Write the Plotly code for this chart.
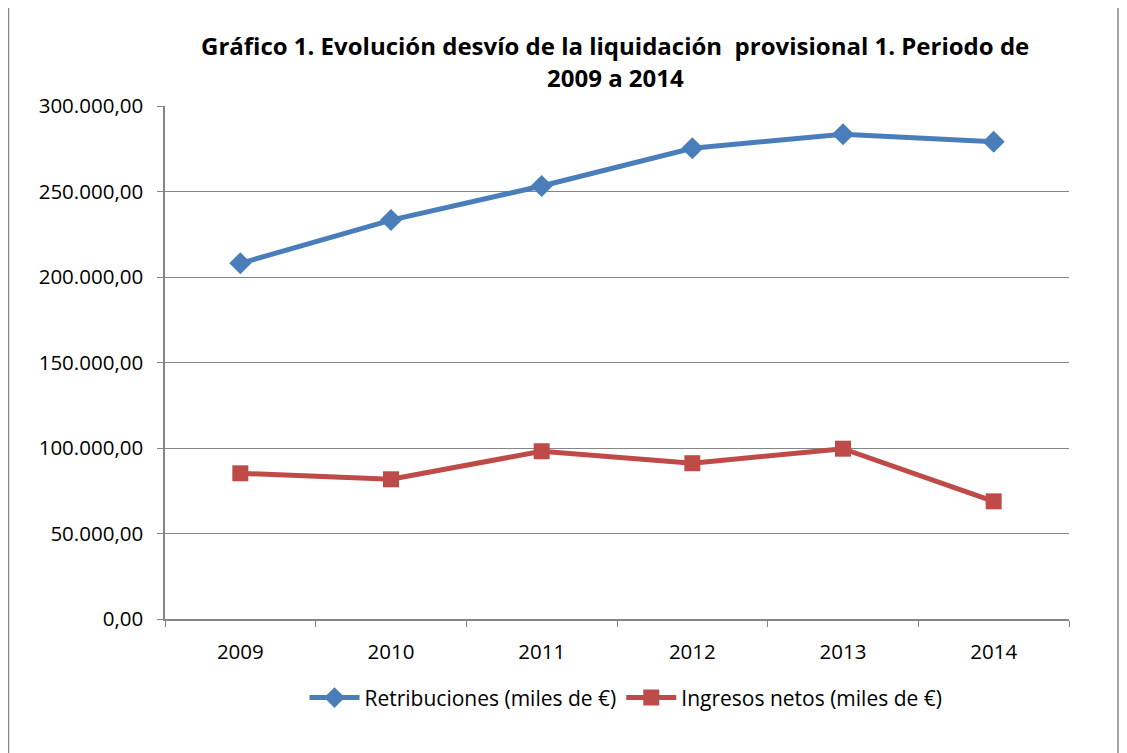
import plotly.graph_objects as go

years = ["2009", "2010", "2011", "2012", "2013", "2014"]
retribuciones = [208000, 233300, 253200, 275300, 283500, 279100]
ingresos = [85200, 81700, 98100, 91100, 99600, 68800]
y_ticks = [0, 50000, 100000, 150000, 200000, 250000, 300000]

W, H = 1127, 753
OFF = 8  # page body margin
# plot area in page coordinates
PX0, PX1, PY0, PY1 = 165, 1069, 105.7, 619
L = PX0 - OFF
R = W - (PX1 - OFF)
T = PY0 - OFF
B = H - (PY1 - OFF)
pw, ph = W - L - R, H - T - B

def px_x(x):
    return (x - OFF - L) / pw

def px_y(y):
    return (H - B - (y - OFF)) / ph

FONT = "Open Sans, Lato, sans-serif"

fig = go.Figure()
fig.add_trace(go.Scatter(
    x=years, y=retribuciones, mode="lines+markers",
    name="Retribuciones (miles de €)",
    line=dict(color="#4A7EBB", width=5),
    marker=dict(symbol="diamond", size=17, color="#4A7EBB"),
))
fig.add_trace(go.Scatter(
    x=years, y=ingresos, mode="lines+markers",
    name="Ingresos netos (miles de €)",
    line=dict(color="#BE4B48", width=5),
    marker=dict(symbol="square", size=16, color="#BE4B48"),
))

fig.update_layout(
    width=W, height=H,
    margin=dict(l=L, r=R, t=T, b=B, autoexpand=False),
    paper_bgcolor="white", plot_bgcolor="white",
    separators=",.",
    font=dict(family=FONT, size=20, color="black"),
    showlegend=True,
    legend=dict(orientation="h", x=px_x(626), xanchor="center", y=px_y(698), yanchor="middle",
                font=dict(size=21), itemwidth=50, tracegroupgap=0),
    xaxis=dict(
        type="category", tickson="boundaries", ticks="outside", ticklen=6,
        tickcolor="#868686", showline=True, linecolor="#868686", linewidth=1.5,
        showgrid=False, range=[-0.5, 5.5], fixedrange=True,
        tickfont=dict(size=20.5), ticklabelstandoff=14,
    ),
    yaxis=dict(
        range=[0, 300000], tickvals=y_ticks, tickformat=",.2f",
        ticks="outside", ticklen=6, tickcolor="#868686",
        showline=True, linecolor="#868686", linewidth=1.5,
        showgrid=True, gridcolor="#868686", gridwidth=1.2,
        zeroline=False, tickfont=dict(size=20.5), ticklabelstandoff=10,
    ),
    annotations=[
        dict(text="<b>Gráfico 1. Evolución desvío de la liquidación  provisional 1. Periodo de</b>",
             xref="paper", yref="paper", x=px_x(615), y=px_y(45), xanchor="center", yanchor="middle",
             showarrow=False, font=dict(family=FONT, size=24, color="black")),
        dict(text="<b>2009 a 2014</b>",
             xref="paper", yref="paper", x=px_x(615), y=px_y(77), xanchor="center", yanchor="middle",
             showarrow=False, font=dict(family=FONT, size=24, color="black")),
    ],
    shapes=[dict(
        type="rect", xref="paper", yref="paper",
        x0=px_x(8.5), x1=px_x(1118), y0=px_y(770), y1=px_y(0),
        line=dict(color="#868686", width=1.5), fillcolor="rgba(0,0,0,0)",
        layer="below",
    )],
)

fig.write_html("out.html")
